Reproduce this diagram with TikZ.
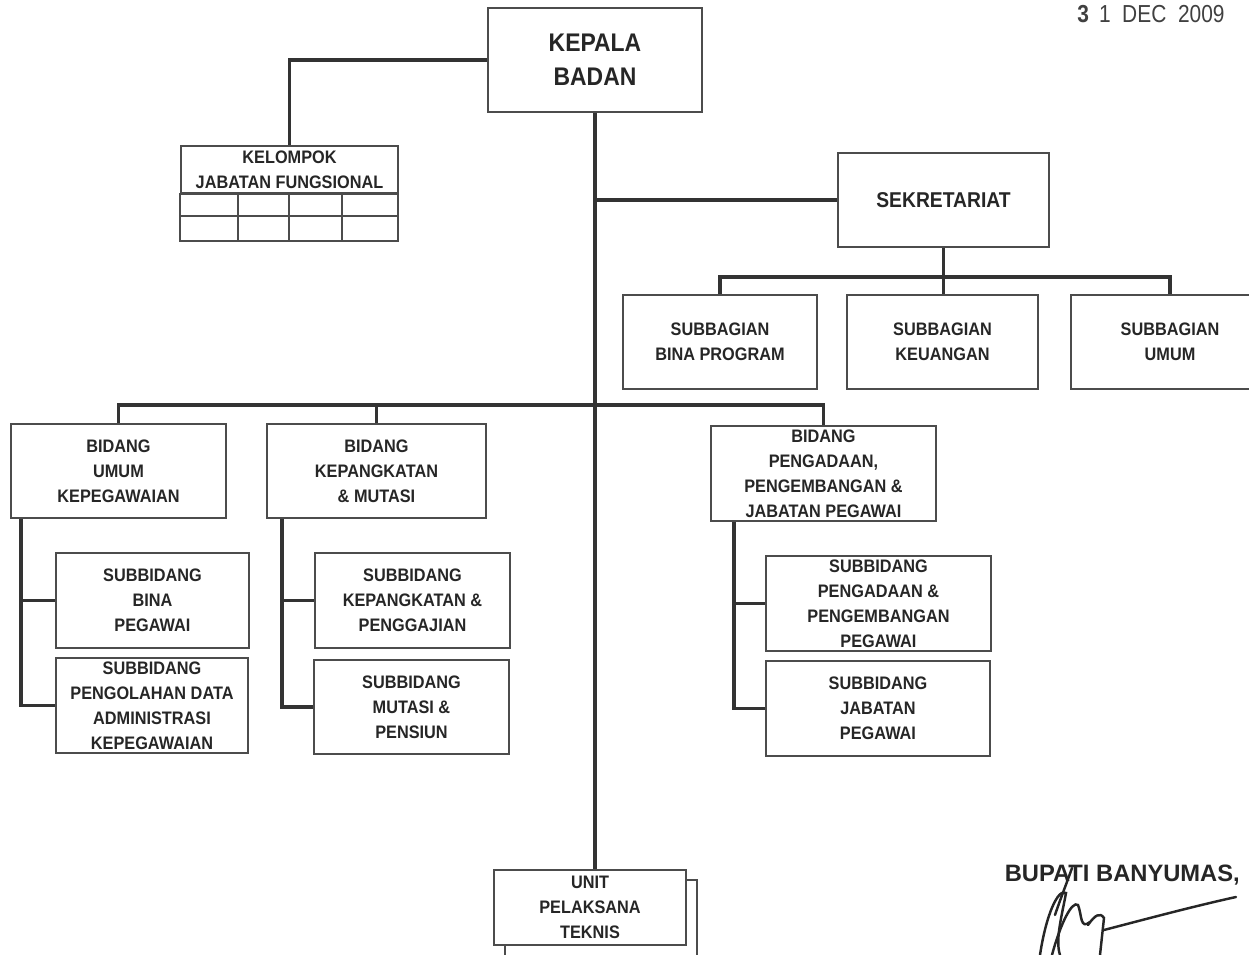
\documentclass[tikz,border=0pt]{standalone}
\usepackage{fontspec}
\setmainfont{Liberation Sans}[FakeStretch=0.9]
\newfontfamily\plainsans{Liberation Sans}
\newfontfamily\narrowsans{Liberation Sans}[FakeStretch=0.85]
\usetikzlibrary{calc}
\tikzset{
orgbox/.style={draw=black!70,line width=0.9pt,fill=white,inner sep=0pt,align=center,
font=\fontsize{10.3}{14.2}\selectfont\bfseries,text=black!85},
headbox/.style={orgbox,font=\fontsize{14.5}{19.3}\selectfont\bfseries},
cellline/.style={draw=black!70,line width=0.9pt},
link/.style={line width=2.2pt,black!80},
stamp/.style={font=\narrowsans\fontsize{14}{15}\selectfont,text=black!75},
signtext/.style={font=\plainsans\bfseries\fontsize{13.5}{15}\selectfont,text=black!85},
sigline/.style={line width=1.4pt,black!85,line cap=round}
}

\begin{document}
\begin{tikzpicture}[x=0.02cm,y=-0.02cm]
\useasboundingbox (0,0) rectangle (1249,955);
\clip (0,0) rectangle (1249,955);

% pimpinan
\node[headbox,minimum width=4.28cm,minimum height=2.08cm] (kepala) at (595,60) {KEPALA\\BADAN};
\node[orgbox,minimum width=4.34cm,minimum height=0.94cm] (kjf) at (289.5,169.5) {KELOMPOK\\JABATAN FUNGSIONAL};
\draw[cellline] (kjf.south west) rectangle (398,241);
\draw[cellline] (181,216) -- (398,216);
\foreach \cx in {238,289,342}
  \draw[cellline] (\cx,193) -- (\cx,241);

% sekretariat
\node[orgbox,font=\fontsize{12.2}{14}\selectfont\bfseries,minimum width=4.22cm,minimum height=1.88cm] (sek) at (943.5,200) {SEKRETARIAT};
\node[orgbox,minimum width=3.88cm,minimum height=1.88cm] (sbp) at (720,342) {SUBBAGIAN\\BINA PROGRAM};
\node[orgbox,minimum width=3.82cm,minimum height=1.88cm] (sbk) at (942.5,342) {SUBBAGIAN\\KEUANGAN};
\node[orgbox,minimum width=3.96cm,minimum height=1.88cm] (sbu) at (1170,342) {SUBBAGIAN\\UMUM};

% bidang
\node[orgbox,minimum width=4.30cm,minimum height=1.88cm] (bum) at (118.5,471) {BIDANG\\UMUM\\KEPEGAWAIAN};
\node[orgbox,minimum width=4.38cm,minimum height=1.88cm] (bkm) at (376.5,471) {BIDANG\\KEPANGKATAN\\\& MUTASI};
\node[orgbox,minimum width=4.50cm,minimum height=1.90cm] (bpp) at (823.5,473.5) {BIDANG\\PENGADAAN,\\PENGEMBANGAN \&\\JABATAN PEGAWAI};

% subbidang
\node[orgbox,minimum width=3.86cm,minimum height=1.90cm] (sbpeg) at (152.5,600.5) {SUBBIDANG\\BINA\\PEGAWAI};
\node[orgbox,minimum width=3.84cm,minimum height=1.90cm] (sbdata) at (152,705.5) {SUBBIDANG\\PENGOLAHAN DATA\\ADMINISTRASI\\KEPEGAWAIAN};
\node[orgbox,minimum width=3.90cm,minimum height=1.90cm] (skp) at (412.5,600.5) {SUBBIDANG\\KEPANGKATAN \&\\PENGGAJIAN};
\node[orgbox,minimum width=3.90cm,minimum height=1.88cm] (smp) at (411.5,707) {SUBBIDANG\\MUTASI \&\\PENSIUN};
\node[orgbox,minimum width=4.50cm,minimum height=1.90cm] (spp) at (878.5,603.5) {SUBBIDANG\\PENGADAAN \&\\PENGEMBANGAN\\PEGAWAI};
\node[orgbox,minimum width=4.48cm,minimum height=1.90cm] (sjp) at (878,708.5) {SUBBIDANG\\JABATAN\\PEGAWAI};

% upt
\draw[cellline,fill=white] (505,880) rectangle (697,960);
\node[orgbox,minimum width=3.84cm,minimum height=1.50cm] (upt) at (590,907.5) {UNIT\\PELAKSANA\\TEKNIS};

% garis komando
\coordinate (sbar) at (943.5,277);
\coordinate (bbar) at (595,405);
\draw[link] (kepala.south) -- (kepala.south |- upt.north);
\draw[link] (kepala.west) -| (kjf.north);
\draw[link] (kepala.south |- sek.west) -- (sek.west);
\draw[link] (sek.south) -- (sek.south |- sbk.north);
\draw[link] (sbp.north) |- (sbar) -| (sbu.north);
\draw[link] (bum.north) |- (bbar) -| (bpp.north);
\draw[link] (bkm.north) -- (bkm.north |- bbar);
\draw[link] ($(bum.south west)+(11,0)$) |- (sbdata.west);
\draw[link] ($(bum.south west)+(11,0)$) |- (sbpeg.west);
\draw[link] ($(bkm.south west)+(16,0)$) |- (smp.west);
\draw[link] ($(bkm.south west)+(16,0)$) |- (skp.west);
\draw[link] ($(bpp.south west)+(24,0)$) |- (sjp.west);
\draw[link] ($(bpp.south west)+(24,0)$) |- (spp.west);

% pengesahan
\node[stamp] (tgl) at (1151,14) {\textbf{3}\, 1 \ DEC \ 2009};
\node[signtext,anchor=east] (bupati) at (1246,875) {BUPATI BANYUMAS,};
\draw[sigline] (1040,955) .. controls (1046,915) and (1058,888) .. (1066,893) .. controls (1062,915) and (1055,940) .. (1060,955);
\draw[sigline] (1052,955) .. controls (1060,925) and (1072,900) .. (1078,905) .. controls (1082,915) and (1080,930) .. (1090,922);
\draw[sigline] (1072,868) .. controls (1066,885) and (1060,900) .. (1055,915);
\draw[sigline] (1088,925) .. controls (1095,915) and (1100,912) .. (1104,918) -- (1100,955);
\draw[sigline] (1104,930) .. controls (1150,918) and (1195,906) .. (1236,897);
\end{tikzpicture}
\end{document}
